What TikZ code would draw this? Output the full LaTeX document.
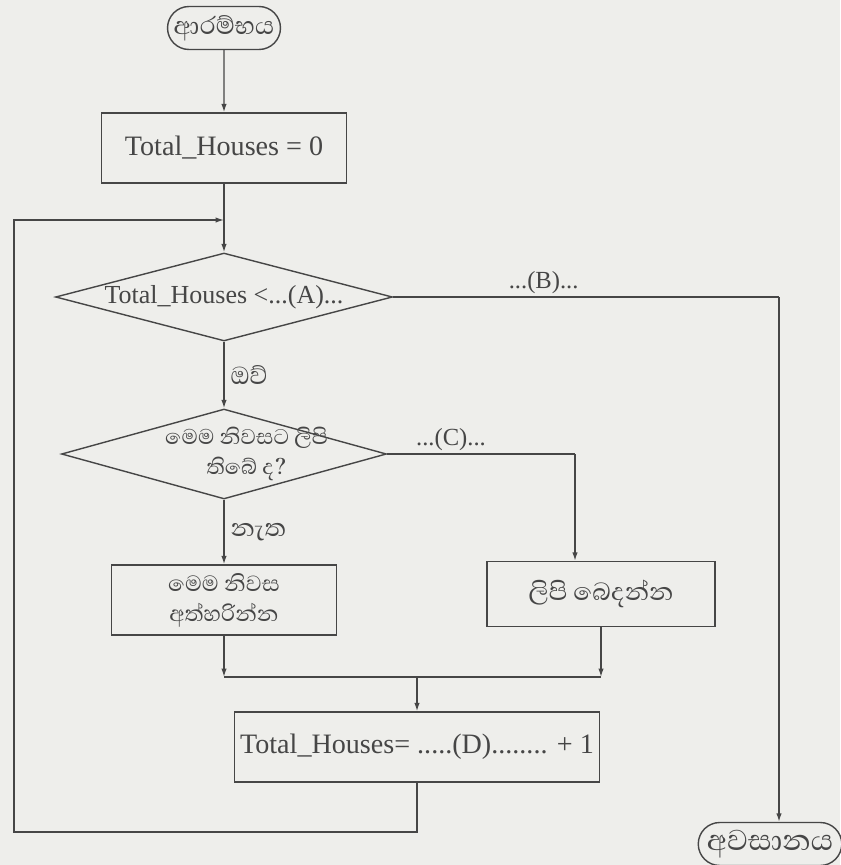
\documentclass[tikz,border=0pt]{standalone}
\usepackage{fontspec}
\setmainfont{Liberation Serif}
\newfontfamily\sinhala[Script=Sinhala]{Abhaya Libre}
\usetikzlibrary{shapes.geometric, shapes.misc, arrows.meta, calc}
\definecolor{ink}{RGB}{70, 70, 70}
\definecolor{paper}{RGB}{238, 238, 235}

\begin{document}
\begin{tikzpicture}[
            x=0.02cm, y=-0.02cm,
            every node/.style={text=ink},
            box/.style={draw=ink, line width=0.8pt, minimum height=1.4cm, align=center, font=\fontsize{16}{19}\selectfont},
            sbox/.style={box, font=\sinhala\fontsize{16}{17}\selectfont},
            term/.style={draw=ink, line width=0.8pt, rounded rectangle, minimum height=0.86cm, inner xsep=2pt, font=\sinhala\fontsize{18}{20}\selectfont},
            decision/.style={draw=ink, line width=0.8pt, diamond, inner sep=-4pt, align=center, font=\fontsize{14.8}{18}\selectfont},
            tag/.style={font=\fontsize{14}{16}\selectfont, inner sep=1.5pt},
            stag/.style={font=\sinhala\fontsize{18}{20}\selectfont},
            arrow/.style={-{Latex[length=1.7mm, width=1.1mm]}, line width=0.8pt, draw=ink},
            line/.style={line width=0.8pt, draw=ink}
        ]
            \fill[paper] (0,0) rectangle (840,865);
            \useasboundingbox (0,0) rectangle (840,865);

            \node[term, minimum width=2.4cm] (start) at (224,28) {ආරම්භය};
            \node[box, minimum width=4.9cm] (init) at (224,148) {Total\_Houses = 0};
            \node[decision, aspect=3.8, minimum width=6.74cm, minimum height=1.76cm] (check) at (224,297) {Total\_Houses <...(A)...};
            \node[decision, aspect=3.6, inner sep=-10pt, minimum width=6.5cm, minimum height=1.8cm, font=\sinhala\fontsize{15.5}{17}\selectfont] (letters) at (224,454)
                {\hspace*{0.9cm}මෙම නිවසට ලිපි\\\hspace*{0.9cm}තිබේ ද?};
            \node[sbox, minimum width=4.5cm] (skip) at (224,600) {මෙම නිවස\\අත්හරින්න};
            \node[sbox, minimum width=4.56cm, minimum height=1.3cm, font=\sinhala\fontsize{18}{20}\selectfont] (deliver) at (601,594) {ලිපි බෙදන්න};
            \node[box, minimum width=7.12cm] (update) at (417,747) {Total\_Houses= .....(D)........ + 1};
            \node[term, minimum width=2.8cm, font=\sinhala\fontsize{21}{22}\selectfont] (end) at (770,844) {අවසානය};

            \coordinate (join) at (224,220);
            \coordinate (exit) at (779,297);
            \coordinate (post) at (575,454);
            \coordinate (merge) at (417,677);
            \coordinate (back) at (14,832);

            \draw[arrow] (start) -- (init);
            \draw[arrow] (init) -- (check);
            \draw[arrow] (check) -- node[stag, right] {ඔව්} (letters);
            \draw[arrow] (letters) -- node[stag, right] {නැත} (skip);
            \draw[line] (check.east) -- node[tag, above, pos=0.39] {...(B)...} (exit);
            \draw[arrow] (exit) -- (exit |- end.north);
            \draw[line] (letters.east) -- node[tag, above, pos=0.34] {...(C)...} (post);
            \draw[arrow] (post) -- (post |- deliver.north);
            \draw[arrow] (skip) -- (skip |- merge);
            \draw[arrow] (deliver) -- (deliver |- merge);
            \draw[line] (skip |- merge) -- (deliver |- merge);
            \draw[arrow] (merge) -- (update);
            \draw[arrow] (update.south) |- (back) |- (join);
        \end{tikzpicture}
\end{document}
